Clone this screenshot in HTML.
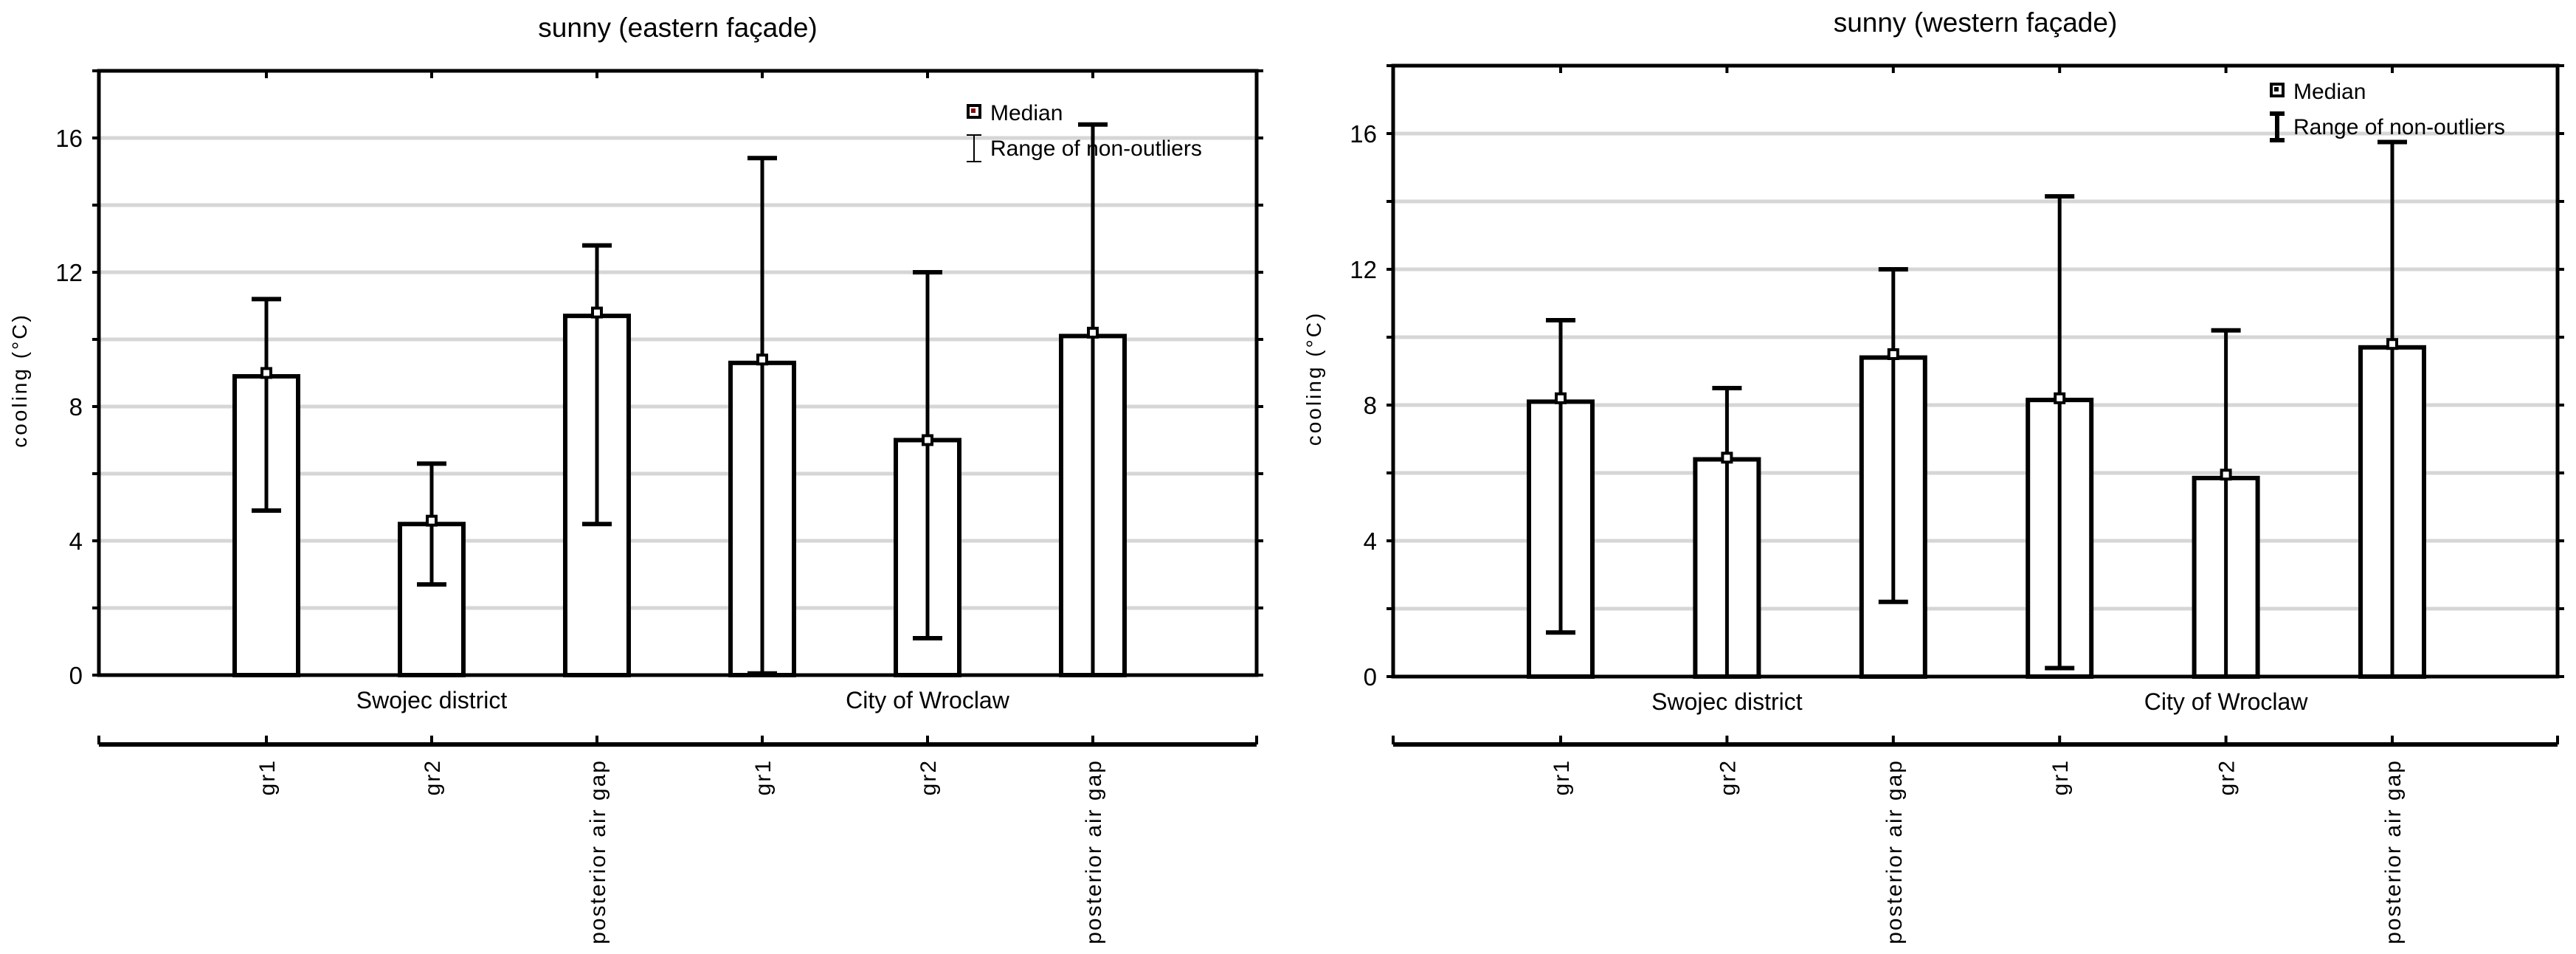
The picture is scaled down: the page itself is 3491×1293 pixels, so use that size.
<!DOCTYPE html>
<html><head><meta charset="utf-8"><style>
body{margin:0;background:#fff;width:3491px;height:1293px;overflow:hidden}
svg{display:block}
text{font-family:"Liberation Sans",sans-serif;fill:#000}
</style></head><body>
<svg id="c" width="3491" height="1293"></svg>
<script>
const categories=["gr1","gr2","posterior air gap","gr1","gr2","posterior air gap"];
const groups=["Swojec district","City of Wroclaw"];
const yTicks=[0,4,8,12,16];
const eastBars=[8.9,4.5,10.7,9.3,7.0,10.1];
const eastMed=[9.0,4.6,10.8,9.4,7.0,10.2];
const eastMin=[4.9,2.7,4.5,0.05,1.1,0];
const eastMax=[11.2,6.3,12.8,15.4,12.0,16.4];
const westBars=[8.1,6.4,9.4,8.15,5.85,9.7];
const westMed=[8.2,6.45,9.5,8.2,5.95,9.8];
const westMin=[1.3,0,2.2,0.25,0,0];
const westMax=[10.5,8.5,12.0,14.15,10.2,15.75];
const NS="http://www.w3.org/2000/svg";
const svg=document.getElementById('c');
function mk(tag,at,parent,txt){const e=document.createElementNS(NS,tag);for(const k in at)e.setAttribute(k,at[k]);if(txt!=null)e.textContent=txt;(parent||svg).appendChild(e);return e;}
function panel(o){
  const g=mk('g',{});
  
  
  const y=v=>o.y0-(v/18)*(o.y0-o.top);
  const x=i=>o.c0+i*o.step;
  for(let v=2;v<=16;v+=2){const l=mk('line',{x1:o.left,x2:o.right,y1:y(v),y2:y(v),stroke:'#d6d6d6','stroke-width':5},g);
    }
  const f=mk('rect',{x:o.left,y:o.top,width:o.right-o.left,height:o.y0-o.top,fill:'none',stroke:'#000','stroke-width':5},g);
  
  for(let v=0;v<=18;v+=2){mk('line',{x1:o.left-9,x2:o.left,y1:y(v),y2:y(v),stroke:'#000','stroke-width':4},g);mk('line',{x1:o.right,x2:o.right+9,y1:y(v),y2:y(v),stroke:'#000','stroke-width':4},g);}
  yTicks.forEach(v=>{const t=mk('text',{x:o.left-22,y:y(v)+12,'text-anchor':'end','font-size':33},g,String(v));
    });
  const yt=mk('text',{x:0,y:0,'text-anchor':'middle','font-size':28,'letter-spacing':3,transform:`translate(${o.left-98},${(o.top+o.y0)/2+10}) rotate(-90)`},g,'cooling (°C)');
  
  const ti=mk('text',{x:(o.left+o.right)/2,y:o.top-46,'text-anchor':'middle','font-size':37},g,o.title);
  
  const ax=mk('line',{x1:o.left,x2:o.right,y1:o.axY,y2:o.axY,stroke:'#000','stroke-width':6},g);
  
  mk('line',{x1:o.left,x2:o.left,y1:o.axY-12,y2:o.axY,stroke:'#000','stroke-width':4},g);
  mk('line',{x1:o.right,x2:o.right,y1:o.axY-12,y2:o.axY,stroke:'#000','stroke-width':4},g);
  categories.forEach((c,i)=>{
    mk('line',{x1:x(i),x2:x(i),y1:o.axY-12,y2:o.axY,stroke:'#000','stroke-width':4},g);
    mk('line',{x1:x(i),x2:x(i),y1:o.top,y2:o.top+10,stroke:'#000','stroke-width':4},g);
    const t=mk('text',{x:0,y:0,'text-anchor':'end','font-size':30,'letter-spacing':2,transform:`translate(${x(i)+11},${o.axY+20}) rotate(-90)`},g,c);
    
    const b=mk('rect',{x:x(i)-43,y:y(o.bars[i]),width:86,height:y(0)-y(o.bars[i]),fill:'#fff',stroke:'#000','stroke-width':6},g);
    
    const w=mk('line',{x1:x(i),x2:x(i),y1:y(o.mx[i]),y2:y(o.mn[i]),stroke:'#000','stroke-width':5},g);
    
    [o.mx[i],o.mn[i]].forEach(v=>mk('line',{x1:x(i)-20,x2:x(i)+20,y1:y(v),y2:y(v),stroke:'#000','stroke-width':6},g));
    const m=mk('rect',{x:x(i)-6,y:y(o.med[i])-6,width:12,height:12,fill:'#fff',stroke:'#000','stroke-width':4},g);
    
  });
  groups.forEach((gn,k)=>{const t=mk('text',{x:x(1+3*k),y:o.y0+45,'text-anchor':'middle','font-size':32},g,gn);
    });
  const lg=mk('g',{},g);
  mk('rect',{x:o.lx-8,y:o.ly-8,width:16,height:16,fill:'#fff',stroke:'#000','stroke-width':4},lg);
  mk('rect',{x:o.lx-4,y:o.ly-4,width:6,height:6,fill:o.lc},lg);
  mk('text',{x:o.lx+22,y:o.ly+12,'font-size':30},lg,'Median');
  mk('line',{x1:o.lx,x2:o.lx,y1:o.ly+32,y2:o.ly+68,stroke:'#000','stroke-width':o.lw},lg);
  mk('line',{x1:o.lx-10,x2:o.lx+10,y1:o.ly+32,y2:o.ly+32,stroke:'#000','stroke-width':o.lw},lg);
  mk('line',{x1:o.lx-10,x2:o.lx+10,y1:o.ly+68,y2:o.ly+68,stroke:'#000','stroke-width':o.lw},lg);
  mk('text',{x:o.lx+22,y:o.ly+60,'font-size':30},lg,'Range of non-outliers');
}
panel({name:'eastern-facade-chart',title:'sunny (eastern façade)',left:134,right:1703,top:96,y0:915,axY:1009,c0:361,step:224,bars:eastBars,med:eastMed,mn:eastMin,mx:eastMax,lx:1320,ly:151,lc:'#8b0000',lw:2});
panel({name:'western-facade-chart',title:'sunny (western façade)',left:1888,right:3466,top:89,y0:917,axY:1009,c0:2115,step:225.4,bars:westBars,med:westMed,mn:westMin,mx:westMax,lx:3086,ly:122,lc:'#000',lw:6});
</script>
</body></html>
